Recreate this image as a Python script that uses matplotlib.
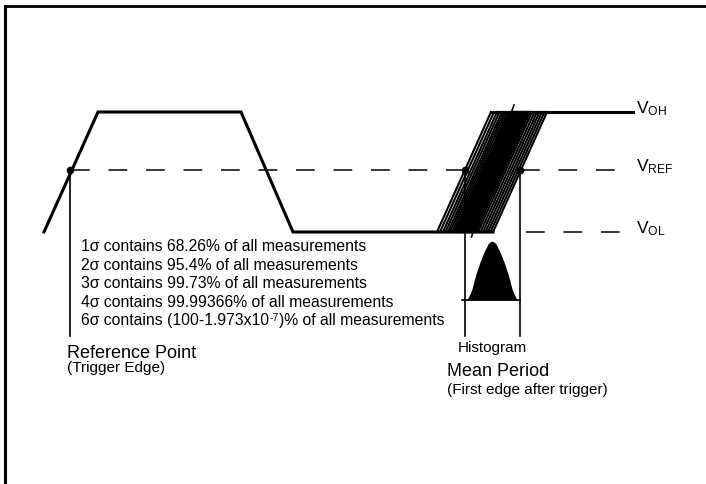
import matplotlib
matplotlib.use("Agg")
import matplotlib.pyplot as plt

plt.rcParams['font.family'] = ['Liberation Sans', 'DejaVu Sans']
plt.rcParams['mathtext.fontset'] = 'custom'
plt.rcParams['mathtext.rm'] = 'Liberation Sans'
plt.rcParams['mathtext.default'] = 'regular'
plt.rcParams['lines.scale_dashes'] = False

# levels (pixel rows of the drawing)
V_HIGH = 113
V_REF = 171
V_LOW = 233

# first pulse of the waveform
pulse_x = [44, 98, 241, 293, 493]
pulse_y = [V_LOW, V_HIGH, V_HIGH, V_LOW, V_LOW]

# jittered rising edges: x where each trace leaves the low level
edge_start = [437, 440, 443, 445.5, 448, 450, 452, 454, 455.5, 457,
              458, 459, 460, 461, 462, 463, 464, 465, 466, 467, 468, 469,
              470, 471, 472, 473, 474, 475, 476,
              478, 480.5, 483, 485.5, 488, 490.5, 493]
edge_run = 54          # horizontal run of one edge
high_end = 633

# histogram of the crossing time
hist_x = [466, 468, 470, 472, 474, 476, 478, 480, 482, 484, 486, 488, 490,
          492, 494, 496, 498, 500, 502, 504, 506, 508, 510, 512, 514, 516, 518]
hist_h = [0, 2, 6, 11, 19, 26, 32, 38, 43, 48, 52, 56, 58, 59, 58, 56, 52,
          48, 43, 38, 32, 26, 19, 11, 6, 2, 0]
hist_base = 301

sigma_lines = [
    "1\u03c3 contains 68.26% of all measurements",
    "2\u03c3 contains 95.4% of all measurements",
    "3\u03c3 contains 99.73% of all measurements",
    "4\u03c3 contains 99.99366% of all measurements",
]
last_line = ["6\u03c3 contains (100-1.973x10", "-7", ")% of all measurements"]
sigma_base = [251.5, 270, 288.5, 307, 325.5]

level_labels = ["V$_{\\mathrm{OH}}$", "V$_{\\mathrm{REF}}$", "V$_{\\mathrm{OL}}$"]
level_y = [V_HIGH, V_REF, V_LOW]

fig = plt.figure(figsize=(7.06, 4.85), dpi=100)
ax = fig.add_axes([0, 0, 1, 1])
ax.set_xlim(0, 706)
ax.set_ylim(485, 0)
ax.axis('off')

# frame (left and top only)
ax.plot([4.5, 4.5], [485, 7], color='black', lw=2.2, solid_capstyle='projecting')
ax.plot([4.5, 706], [7, 7], color='black', lw=2.0)

# dashed level lines
dash = (13.5, 13.5)
ax.plot([71, 630], [V_REF, V_REF], color='black', lw=1.1, dashes=dash)
ax.plot([526, 624], [V_LOW, V_LOW], color='black', lw=1.1, dashes=dash)

# waveform
ax.plot(pulse_x, pulse_y, color='black', lw=2.2, solid_joinstyle='miter')
ax.plot([min(edge_start) + edge_run, high_end], [V_HIGH, V_HIGH],
        color='black', lw=2.2)
for xs in edge_start:
    ax.plot([xs, xs + edge_run], [V_LOW, V_HIGH], color='black', lw=1.5)
ax.plot([511.5, 514], [V_HIGH, 106], color='black', lw=1.2)
ax.plot([473, 471.5], [V_LOW, 238], color='black', lw=1.2)

# reference point and histogram bounds
ax.plot([70, 70], [V_REF, 337], color='black', lw=1.2)
ax.plot([465, 465], [V_REF, 337], color='black', lw=1.2)
ax.plot([520, 520], [V_REF, 337], color='black', lw=1.2)
ax.plot([70, 465, 520], [V_REF, V_REF, V_REF], 'o', color='black', ms=4.5, lw=0)

# histogram
ax.plot([462, 520], [hist_base, hist_base], color='black', lw=1.2)
ax.fill_between(hist_x, [hist_base - h for h in hist_h], hist_base,
                color='black', lw=0)

# labels
for txt, y in zip(sigma_lines, sigma_base):
    ax.text(81, y, txt, fontsize=11.3, va='baseline', ha='left')

# last line with a raised exponent, laid out piece by piece
fig.canvas.draw()
renderer = fig.canvas.get_renderer()
to_data = ax.transData.inverted()
x = 81
y5 = sigma_base[4]
for i, piece in enumerate(last_line):
    if i == 1:
        t = ax.text(x, y5 - 4.5, piece, fontsize=7.5, va='baseline')
    else:
        t = ax.text(x, y5, piece, fontsize=11.3, va='baseline')
    bb = t.get_window_extent(renderer)
    x = to_data.transform((bb.x1, bb.y0))[0] + 0.5

for txt, y in zip(level_labels, level_y):
    ax.text(636, y, txt, fontsize=12.5, va='baseline', ha='left')

ax.text(67, 358, "Reference Point", fontsize=13, va='baseline')
ax.text(67, 372, "(Trigger Edge)", fontsize=11, va='baseline')
ax.text(458, 352, "Histogram", fontsize=11, va='baseline')
ax.text(447, 376, "Mean Period", fontsize=13, va='baseline')
ax.text(447, 394, "(First edge after trigger)", fontsize=11, va='baseline')

fig.savefig("out.png", dpi=100)
